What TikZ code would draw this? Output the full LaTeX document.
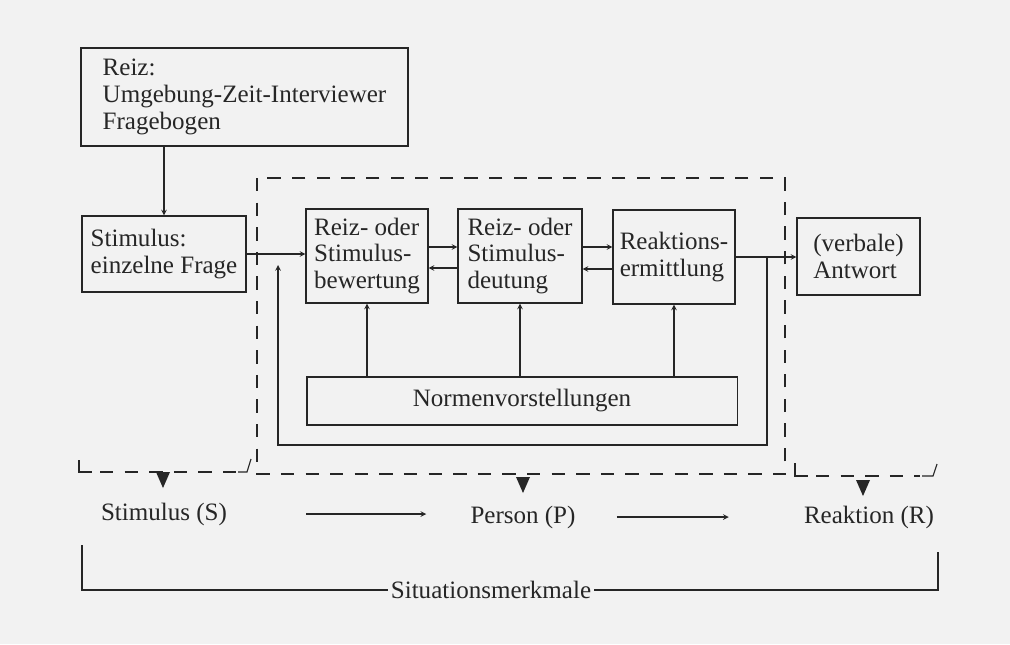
\documentclass[tikz,border=0pt]{standalone}
\usepackage{fontspec}
\setmainfont{Liberation Serif}
\usetikzlibrary{arrows}
\tikzstyle{arrow} = [->,>=stealth]
\tikzstyle{box} = [draw, align=left, inner sep=0pt]
\tikzstyle{dashline} = [dash pattern=on 9.5pt off 8pt]

\begin{document}
\begin{tikzpicture}[x=0.025cm, y=-0.025cm, line width=0.8pt, color=black!85,
  font=\fontsize{17.8pt}{19pt}\selectfont]
  % paper
  \fill[black!5] (0,0) rectangle (1010,644);

  % boxes of the upper model
  \node[box, minimum width=8.175cm, minimum height=2.45cm] (reiz) at (244.5,97) {Reiz:\\Umgebung-Zeit-Interviewer\\Fragebogen};
  \node[box, minimum width=4.1cm, minimum height=1.9cm] (stim) at (164,254) {Stimulus:\\einzelne Frage};
  \node[box, minimum width=3.05cm, minimum height=2.35cm] (bew) at (367,256) {Reiz- oder\\Stimulus-\\bewertung};
  \node[box, minimum width=3.1cm, minimum height=2.35cm] (deut) at (520,256) {Reiz- oder\\Stimulus-\\deutung};
  \node[box, minimum width=3.05cm, minimum height=2.35cm] (erm) at (674,257) {Reaktions-\\ermittlung};
  \node[box, minimum width=10.75cm, minimum height=1.2cm] (norm) at (522,401) {Normenvorstellungen};
  \node[box, minimum width=3.075cm, minimum height=1.925cm] (antw) at (858.5,256.5) {(verbale)\\Antwort};

  % connectors
  \draw[arrow] (reiz.south -| stim.north) -- (stim.north);
  \draw[arrow] (stim.east) -- (stim.east -| bew.west);
  \draw[arrow] ([yshift=0.225cm]bew.east) -- ([yshift=0.225cm]deut.west);
  \draw[arrow] ([yshift=-0.3cm]deut.west) -- ([yshift=-0.3cm]bew.east);
  \draw[arrow] ([yshift=0.225cm]deut.east) -- ([yshift=0.225cm]deut.east -| erm.west);
  \draw[arrow] ([yshift=-0.3cm]erm.west) -- ([yshift=-0.3cm]erm.west -| deut.east);
  \draw[arrow] (erm.east) -- (erm.east -| antw.west);
  \foreach \n in {bew,deut,erm}
    \draw[arrow] (norm.north -| \n.south) -- (\n.south);

  % feedback loop
  \coordinate (fbR) at (767,257);
  \coordinate (fbL) at (278,445);
  \coordinate (fbE) at (278,265);
  \draw[arrow] (fbR) |- (fbL) -- (fbE);

  % dashed frames
  \draw[dashline] (257,178) rectangle (785,474);
  \draw (79,460) |- (92,472);
  \draw[dashline] (100,472) -- (236,472);
  \draw (238,472) -- (247,472) -- (251,459);
  \draw (795,463) |- (808,476);
  \draw[dashline] (816,476) -- (920,476);
  \draw (922,476) -- (933,476) -- (937,464);

  % S - P - R
  \foreach \x/\y in {163/480, 523/485, 863/488}
    \fill (\x-7,\y-8) -- (\x+7,\y-8) -- (\x,\y+8) -- cycle;
  \node (lS) at (164,514) {Stimulus (S)};
  \node (lP) at (523,517) {Person (P)};
  \node (lR) at (869,517) {Reaktion (R)};
  \draw[arrow, shorten <=1.85cm, shorten >=0.975cm] (lS.east) -- (lS.east -| lP.west);
  \draw[arrow, shorten <=0.9cm, shorten >=1.75cm] (lP.east) -- (lP.east -| lR.west);

  % situation bracket
  \node[inner xsep=2pt] (sit) at (491,590) {Situationsmerkmale};
  \coordinate (sitL) at (82,545);
  \coordinate (sitR) at (938,552);
  \draw (sit.west) -| (sitL);
  \draw (sit.east) -| (sitR);
\end{tikzpicture}
\end{document}
